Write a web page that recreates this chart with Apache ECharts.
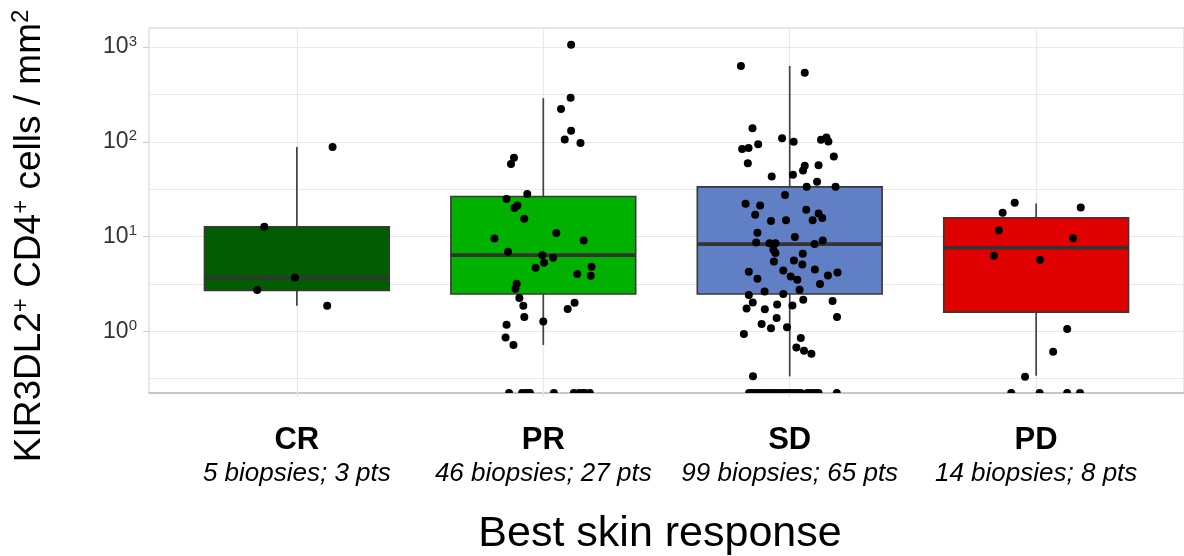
<!DOCTYPE html>
<html>
<head>
<meta charset="utf-8">
<script src="https://cdn.jsdelivr.net/npm/echarts@6/dist/echarts.min.js"></script>
<style>
  html, body { margin: 0; padding: 0; background: #ffffff; }
  #chart { width: 1184px; height: 556px; }
</style>
</head>
<body>
<div id="chart"></div>
<script>
// Response groups, in axis order
const categories = ['CR', 'PR', 'SD', 'PD'];
const sampleNotes = ['5 biopsies; 3 pts', '46 biopsies; 27 pts', '99 biopsies; 65 pts', '14 biopsies; 8 pts'];
const boxColors = ['#025c02', '#00b100', '#607fc4', '#e00000'];

// Box summaries: [lower whisker, Q1, median, Q3, upper whisker]
const crBox = [1.87, 2.70, 3.71, 12.7, 88];
const prBox = [0.72, 2.48, 6.38, 26.5, 288];
const sdBox = [0.336, 2.48, 8.34, 33.5, 631];
const pdBox = [0.341, 1.60, 7.62, 15.8, 22.3];

// Biopsies: [horizontal jitter, cells / mm²]; 0 means no cells detected
const crPoints = [
  [-0.132, 12.7], [-0.008, 3.71], [-0.161, 2.73], [0.123, 1.87], [0.145, 88]
];
const prPoints = [
  [0.113, 1057], [0.111, 292], [0.072, 222], [0.113, 131], [0.087, 106], [0.151, 97],
  [-0.119, 67.7], [-0.131, 58.5], [-0.065, 28.2], [-0.149, 25], [-0.105, 21.3], [-0.117, 20],
  [-0.077, 15.4], [0.053, 10.9], [-0.198, 9.55], [0.164, 9.1], [-0.143, 6.92], [-0.004, 6.38],
  [0.040, 5.98], [0.003, 5.30], [-0.031, 4.69], [0.196, 4.81], [0.138, 4.03], [0.193, 3.87],
  [-0.108, 3.18], [-0.113, 2.82], [-0.097, 2.25], [-0.081, 1.87], [0.127, 2.01], [0.099, 1.73],
  [-0.077, 1.42], [0.000, 1.27], [-0.149, 1.18], [-0.153, 0.865], [-0.121, 0.719],
  [-0.139, 0], [-0.086, 0], [-0.070, 0], [-0.062, 0], [-0.054, 0], [0.043, 0],
  [0.124, 0], [0.145, 0], [0.160, 0], [0.169, 0], [0.189, 0]
];
const sdPoints = [
  [-0.198, 631], [0.061, 536], [-0.151, 139], [-0.031, 109], [0.016, 100], [-0.128, 94.3],
  [-0.193, 84.2], [-0.167, 86.2], [0.127, 105], [0.149, 111], [0.157, 101], [0.179, 69.8],
  [-0.170, 59.5], [0.061, 55.8], [0.117, 56.7], [0.054, 49.7], [0.013, 44.8], [-0.073, 43],
  [0.111, 37.8], [0.069, 33.5], [0.186, 33.5], [-0.019, 27.4], [-0.179, 22.2], [-0.120, 21.3],
  [-0.140, 17], [0.067, 19.2], [0.117, 17.5], [0.132, 15.7], [-0.076, 14.6], [-0.015, 14.9],
  [0.093, 14.9], [-0.131, 11], [0.021, 9.89], [-0.136, 8.67], [-0.082, 8.54], [-0.058, 8.54],
  [0.101, 8.34], [0.134, 9.1], [-0.066, 7.26], [-0.058, 6.70], [-0.064, 5.47], [0.053, 6.59],
  [0.017, 5.60], [0.051, 5.08], [-0.166, 4.26], [-0.026, 4.39], [0.102, 4.50], [0.194, 4.19],
  [0.155, 3.89], [-0.131, 3.59], [0.004, 3.80], [0.031, 3.51], [0.123, 3.16], [0.040, 2.75],
  [-0.102, 2.64], [-0.026, 2.48], [-0.166, 2.42], [-0.150, 2.02], [-0.175, 1.75], [-0.101, 1.71],
  [-0.051, 1.93], [0.011, 1.88], [0.055, 2.16], [0.174, 2.09], [0.192, 1.42], [-0.114, 1.20],
  [-0.053, 1.39], [-0.076, 1.08], [-0.011, 1.11], [-0.186, 0.94], [0.045, 0.851], [0.027, 0.678],
  [0.058, 0.627], [0.088, 0.582], [-0.149, 0.336],
  [-0.165, 0], [-0.152, 0], [-0.140, 0], [-0.128, 0], [-0.115, 0], [-0.103, 0], [-0.090, 0],
  [-0.078, 0], [-0.066, 0], [-0.054, 0], [-0.041, 0], [-0.029, 0], [-0.017, 0], [-0.005, 0],
  [0.008, 0], [0.020, 0], [0.032, 0], [0.045, 0], [0.072, 0], [0.085, 0], [0.097, 0],
  [0.110, 0], [0.117, 0], [0.191, 0]
];
const pdPoints = [
  [-0.087, 22.7], [-0.136, 17.9], [0.181, 20.3], [-0.151, 11.7], [0.150, 9.64], [-0.171, 6.28],
  [0.016, 5.70], [0.126, 1.06], [0.069, 0.611], [-0.045, 0.333],
  [-0.101, 0], [0.014, 0], [0.126, 0], [0.178, 0]
];

// Axis decorations
const yLabelTicks = [1, 10, 100, 1000];
const yGridValues = [0.316, 1, 3.16, 10, 31.6, 100, 316, 1000];
const xGridValues = [1, 2, 3, 4];

const boxes = [crBox, prBox, sdBox, pdBox];
const pointGroups = [crPoints, prPoints, sdPoints, pdPoints];

const Y_MIN = Math.pow(10, -0.649);
const Y_MAX = Math.pow(10, 3.2);
const BOX_WIDTH = 0.75;
const FONT = '"Liberation Sans", Arial, Helvetica, sans-serif';

const boxData = boxes.map((b, i) => [i + 1].concat(b));
const dotData = [];
const zeroData = [];
pointGroups.forEach((pts, i) => {
  pts.forEach(([dx, v]) => {
    if (v === 0) zeroData.push([i + 1 + dx, Y_MIN]);
    else dotData.push([i + 1 + dx, v]);
  });
});

function renderBox(params, api) {
  const pos = api.value(0);
  const pt = v => api.coord([pos, v]);
  const cx = pt(api.value(3))[0];
  const yLo = pt(api.value(1))[1];
  const yQ1 = pt(api.value(2))[1];
  const yMed = pt(api.value(3))[1];
  const yQ3 = pt(api.value(4))[1];
  const yHi = pt(api.value(5))[1];
  const w = api.size([BOX_WIDTH, 0], [pos, 1])[0];
  const whisker = { stroke: '#444444', lineWidth: 1.7 };
  return {
    type: 'group',
    children: [
      { type: 'line', shape: { x1: cx, y1: yQ3, x2: cx, y2: yHi }, style: whisker },
      { type: 'line', shape: { x1: cx, y1: yQ1, x2: cx, y2: yLo }, style: whisker },
      { type: 'rect', shape: { x: cx - w / 2, y: yQ3, width: w, height: yQ1 - yQ3 },
        style: { fill: boxColors[params.dataIndex], stroke: '#383838', lineWidth: 1.6 } },
      { type: 'line', shape: { x1: cx - w / 2, y1: yMed, x2: cx + w / 2, y2: yMed },
        style: { stroke: '#333333', lineWidth: 3.6 } }
    ]
  };
}

const chart = echarts.init(document.getElementById('chart'), null, { renderer: 'canvas' });
chart.setOption({
  animation: false,
  backgroundColor: '#ffffff',
  textStyle: { fontFamily: FONT },
  grid: {
    left: 149, top: 28, right: -3, bottom: 163,
    show: true, borderColor: '#cfcfcf', borderWidth: 1, backgroundColor: 'transparent'
  },
  title: {
    text: 'Best skin response',
    left: 655, top: 508, textAlign: 'center',
    textStyle: { fontFamily: FONT, fontSize: 43, fontWeight: 'normal', color: '#000000' }
  },
  graphic: [{
    type: 'text',
    x: 30, y: 236,
    rotation: Math.PI / 2,
    style: {
      text: 'KIR3DL2{s|+} CD4{s|+} cells / mm{s|2}',
      fontFamily: FONT, fontSize: 37, fill: '#000000',
      align: 'center', verticalAlign: 'middle',
      rich: {
        s: { fontFamily: FONT, fontSize: 24, verticalAlign: 'top', lineHeight: 42 }
      },
      lineHeight: 42
    }
  }],
  xAxis: {
    type: 'value',
    min: 0.4, max: 4.6,
    splitLine: { show: false },
    axisLine: { show: true, onZero: false, lineStyle: { color: '#bdbdbd', width: 1.5 } },
    axisTick: { show: true, customValues: xGridValues, length: 4, lineStyle: { color: '#e3e3e3' } },
    axisLabel: {
      customValues: xGridValues,
      margin: 29,
      formatter: value => {
        const k = Math.round(value);
        if (Math.abs(value - k) > 1e-6 || k < 1 || k > categories.length) return '';
        return '{b|' + categories[k - 1] + '}\n{i|' + sampleNotes[k - 1] + '}';
      },
      rich: {
        b: { fontFamily: FONT, fontSize: 31, fontWeight: 'bold', lineHeight: 36, color: '#000000' },
        i: { fontFamily: FONT, fontSize: 26, fontStyle: 'italic', lineHeight: 31, color: '#000000' }
      }
    }
  },
  yAxis: {
    type: 'log',
    logBase: 10,
    min: Y_MIN, max: Y_MAX,
    splitLine: { show: false },
    minorSplitLine: { show: false },
    axisLine: { show: false },
    axisTick: { show: true, customValues: yLabelTicks, length: 6, lineStyle: { color: '#cccccc' } },
    axisLabel: {
      customValues: yLabelTicks,
      margin: 12,
      color: '#333333',
      fontFamily: FONT,
      fontSize: 23,
      formatter: value => {
        const lg = Math.log10(value);
        const e = Math.round(lg);
        if (Math.abs(lg - e) > 1e-6) return '';
        return '10{s|' + e + '}';
      },
      rich: {
        s: { fontFamily: FONT, fontSize: 15, color: '#333333', verticalAlign: 'top', lineHeight: 26 }
      },
      lineHeight: 26
    }
  },
  series: [
    {
      // background grid lines
      type: 'scatter',
      data: [],
      z: 1,
      markLine: {
        silent: true,
        z: 1,
        symbol: ['none', 'none'],
        label: { show: false },
        lineStyle: { color: '#e8e8e8', width: 1.2, type: 'solid' },
        data: yGridValues.map(v => ({ yAxis: v })).concat(xGridValues.map(v => ({ xAxis: v })))
      }
    },
    {
      type: 'custom',
      z: 2,
      renderItem: renderBox,
      encode: { x: 0, y: [1, 2, 3, 4, 5] },
      data: boxData
    },
    {
      type: 'scatter',
      z: 3,
      clip: false,
      symbol: 'circle',
      symbolSize: 8,
      itemStyle: { color: '#000000', opacity: 1 },
      data: dotData
    },
    {
      // undetected values sit on the lower edge of the panel
      type: 'scatter',
      z: 3,
      clip: false,
      symbol: 'path://M0,10 A10,10 0 0 1 20,10 Z',
      symbolSize: [8, 4],
      symbolOffset: [0, -2],
      itemStyle: { color: '#000000', opacity: 1 },
      data: zeroData
    }
  ]
});
</script>
</body>
</html>
